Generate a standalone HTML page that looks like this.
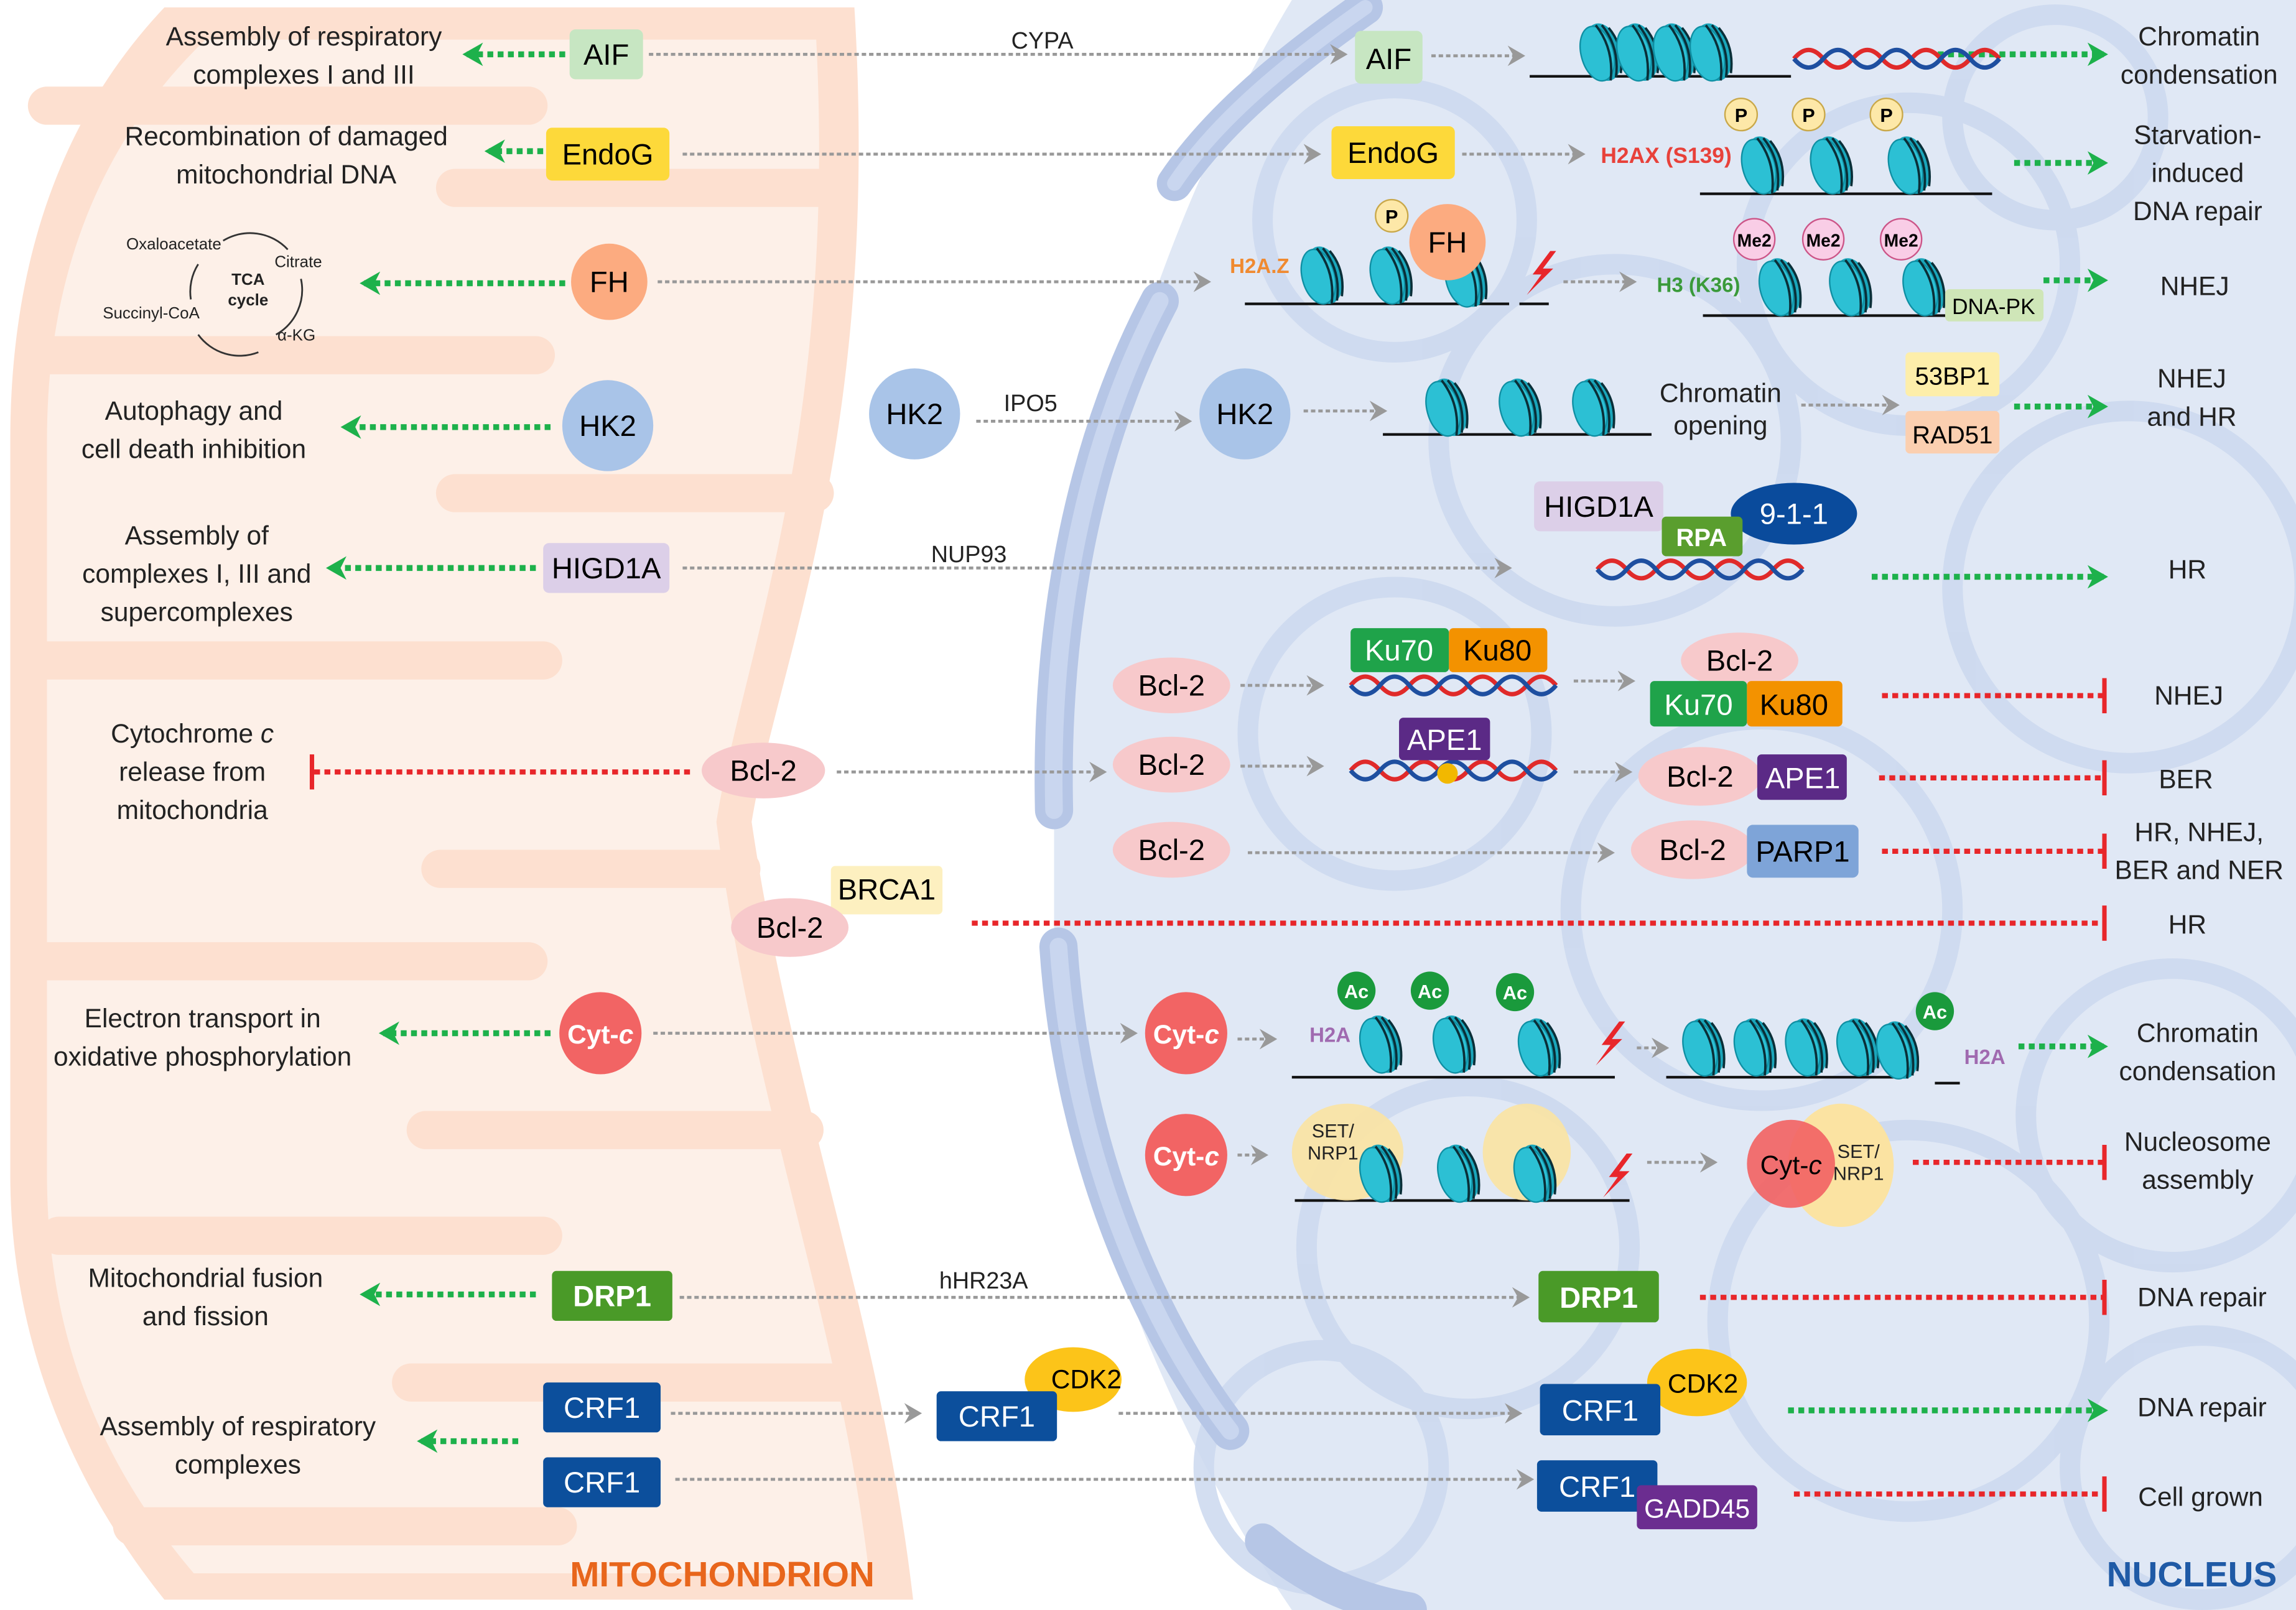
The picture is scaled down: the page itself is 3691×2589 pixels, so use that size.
<!DOCTYPE html>
<html><head><meta charset="utf-8"><style>
html,body{margin:0;padding:0;background:#fff}
svg{display:block}
text{font-family:"Liberation Sans",sans-serif}
</style></head><body>
<svg width="3691" height="2589" viewBox="0 0 1564 1097" xmlns="http://www.w3.org/2000/svg">
<defs>
<marker id="ag" markerWidth="12" markerHeight="14" refX="10" refY="7" orient="auto" markerUnits="userSpaceOnUse"><path d="M0,0 L12,7 L0,14 L4,7 Z" fill="#999"/></marker>
<marker id="agr" markerWidth="14" markerHeight="16" refX="11" refY="8" orient="auto" markerUnits="userSpaceOnUse"><path d="M0,0 L14,8 L0,16 L4,8 Z" fill="#1db14b"/></marker>
<marker id="ar" markerWidth="6" markerHeight="24" refX="3" refY="12" orient="auto" markerUnits="userSpaceOnUse"><rect x="1" y="0" width="3" height="24" fill="#e8262a"/></marker>
<g id="n">
<g transform="rotate(-15)">
<ellipse cx="2" cy="0" rx="12" ry="20" fill="#1aa6bb"/>
<ellipse cx="-2" cy="0" rx="11" ry="19" fill="#2cc0d4" stroke="#0f8fa3" stroke-width="1"/>
<path d="M6,-18 Q14,0 6,19 M10,-15 Q17,0 10,17 M2,-19 Q10,0 2,20" stroke="#0a2f38" stroke-width="1.6" fill="none"/>
</g>
</g>
<g id="dna">
<path d="M0,0 q10,-12 20,0 t20,0 t20,0 t20,0 t20,0 t20,0 t20,0" stroke="#e02a2a" stroke-width="3" fill="none"/>
<path d="M0,0 q10,12 20,0 t20,0 t20,0 t20,0 t20,0 t20,0 t20,0" stroke="#1e4fa0" stroke-width="3" fill="none"/>
</g>
<g id="bolt"><path d="M8,-14 L-4,2 L2,2 L-8,16 L10,-2 L3,-2 L12,-14 Z" fill="#e8262a"/></g>
</defs>

<!-- mitochondrion -->
<path d="M112,5 H582 C600,300 530,450 512,560 C540,750 600,900 622,1090 H112 C40,1000 7,900 7,800 V300 C7,150 60,60 112,5 Z" fill="#fde0d0"/>
<path d="M140,27 H556 C570,300 505,450 488,560 C512,750 572,900 592,1072 H132 C62,990 32,900 32,800 V300 C32,170 80,85 140,27 Z" fill="#fdf0e8"/>
<g stroke="#fde0d0" stroke-width="26" stroke-linecap="round" fill="none">
<path d="M32,72 H360"/>
<path d="M565,128 H310"/>
<path d="M32,242 H365"/>
<path d="M555,336 H310"/>
<path d="M32,450 H370"/>
<path d="M505,592 H300"/>
<path d="M32,655 H360"/>
<path d="M548,770 H290"/>
<path d="M40,842 H370"/>
<path d="M580,942 H280"/>
<path d="M90,1040 H380"/>
</g>

<!-- nucleus -->
<path d="M880,0 C790,150 725,350 718,560 L718,650 C730,820 800,980 880,1097 H1564 V0 Z" fill="#e0e8f5"/>
<g fill="none" stroke="#cbd8ee" stroke-width="14" opacity="0.85">
<circle cx="950" cy="150" r="90"/><circle cx="1100" cy="300" r="120"/><circle cx="1300" cy="180" r="110"/>
<circle cx="1450" cy="400" r="120"/><circle cx="950" cy="500" r="100"/><circle cx="1200" cy="620" r="130"/>
<circle cx="1000" cy="850" r="110"/><circle cx="1300" cy="900" r="130"/><circle cx="1480" cy="760" r="100"/>
<circle cx="1500" cy="1000" r="90"/><circle cx="900" cy="1000" r="80"/><circle cx="1400" cy="80" r="70"/>
</g>
<g fill="none" stroke-linecap="round">
<path d="M800,125 C830,80 880,40 930,5" stroke="#b6c6e6" stroke-width="24"/>
<path d="M790,205 C740,300 715,420 718,552" stroke="#b6c6e6" stroke-width="26"/>
<path d="M721,645 C730,780 780,900 838,975" stroke="#b6c6e6" stroke-width="26"/>
<path d="M860,1050 C890,1075 920,1090 960,1097" stroke="#b6c6e6" stroke-width="24"/>
<path d="M800,125 C830,80 880,40 930,5" stroke="#c9d6ef" stroke-width="10"/>
<path d="M790,205 C740,300 715,420 718,552" stroke="#c9d6ef" stroke-width="12"/>
<path d="M721,645 C730,780 780,900 838,975" stroke="#c9d6ef" stroke-width="12"/>
</g>

<text x="492" y="1081" font-size="24" font-weight="bold" fill="#e8661c" text-anchor="middle">MITOCHONDRION</text>
<text x="1493" y="1081" font-size="24" font-weight="bold" fill="#1f5aa6" text-anchor="middle">NUCLEUS</text>

<g font-size="18" fill="#222" text-anchor="middle">
<text x="207" y="31">Assembly of respiratory</text><text x="207" y="57">complexes I and III</text>
<text x="195" y="99">Recombination of damaged</text><text x="195" y="125">mitochondrial DNA</text>
<text x="132" y="286">Autophagy and</text><text x="132" y="312">cell death inhibition</text>
<text x="134" y="371">Assembly of</text><text x="134" y="397">complexes I, III and</text><text x="134" y="423">supercomplexes</text>
<text x="131" y="506">Cytochrome <tspan font-style="italic">c</tspan></text><text x="131" y="532">release from</text><text x="131" y="558">mitochondria</text>
<text x="138" y="700">Electron transport in</text><text x="138" y="726">oxidative phosphorylation</text>
<text x="140" y="877">Mitochondrial fusion</text><text x="140" y="903">and fission</text>
<text x="162" y="978">Assembly of respiratory</text><text x="162" y="1004">complexes</text>

<text x="1498" y="31">Chromatin</text><text x="1498" y="57">condensation</text>
<text x="1497" y="98">Starvation-</text><text x="1497" y="124">induced</text><text x="1497" y="150">DNA repair</text>
<text x="1495" y="201">NHEJ</text>
<text x="1493" y="264">NHEJ</text><text x="1493" y="290">and HR</text>
<text x="1490" y="394">HR</text>
<text x="1491" y="480">NHEJ</text>
<text x="1489" y="537">BER</text>
<text x="1498" y="573">HR, NHEJ,</text><text x="1498" y="599">BER and NER</text>
<text x="1490" y="636">HR</text>
<text x="1497" y="710">Chromatin</text><text x="1497" y="736">condensation</text>
<text x="1497" y="784">Nucleosome</text><text x="1497" y="810">assembly</text>
<text x="1500" y="890">DNA repair</text>
<text x="1500" y="965">DNA repair</text>
<text x="1499" y="1026">Cell grown</text>
<text x="1172" y="274">Chromatin</text><text x="1172" y="296">opening</text>
<text x="710" y="33" font-size="16">CYPA</text>
<text x="702" y="280" font-size="16">IPO5</text>
<text x="660" y="383" font-size="16">NUP93</text>
<text x="670" y="878" font-size="16">hHR23A</text>
</g>

<!-- TCA cycle -->
<g font-size="11" fill="#222">
<text x="86" y="170">Oxaloacetate</text><text x="187" y="182">Citrate</text>
<text x="70" y="217">Succinyl-CoA</text><text x="189" y="232">α-KG</text>
<text x="169" y="194" font-weight="bold" text-anchor="middle">TCA</text><text x="169" y="208" font-weight="bold" text-anchor="middle">cycle</text>
<path d="M152,164 A35,35 0 0 1 196,170 M205,190 A35,35 0 0 1 188,228 M176,240 A35,35 0 0 1 135,228 M130,204 A35,35 0 0 1 135,180" stroke="#333" fill="none" stroke-width="1.2"/>
</g>

<!-- arrows -->
<g stroke="#999" stroke-width="2" stroke-dasharray="3 2" fill="none" marker-end="url(#ag)">
<line x1="442" y1="37" x2="916" y2="37"/><line x1="975" y1="38" x2="1037" y2="38"/>
<line x1="465" y1="105" x2="898" y2="105"/><line x1="996" y1="105" x2="1078" y2="105"/>
<line x1="448" y1="192" x2="823" y2="192"/><line x1="1065" y1="192" x2="1113" y2="192"/>
<line x1="665" y1="287" x2="810" y2="287"/><line x1="888" y1="280" x2="943" y2="280"/><line x1="1227" y1="276" x2="1292" y2="276"/>
<line x1="465" y1="387" x2="1028" y2="387"/>
<line x1="845" y1="467" x2="900" y2="467"/><line x1="1072" y1="464" x2="1112" y2="464"/>
<line x1="570" y1="526" x2="752" y2="526"/><line x1="845" y1="522" x2="900" y2="522"/><line x1="1072" y1="526" x2="1110" y2="526"/>
<line x1="850" y1="581" x2="1098" y2="581"/>
<line x1="445" y1="704" x2="773" y2="704"/><line x1="843" y1="708" x2="868" y2="708"/><line x1="1115" y1="714" x2="1135" y2="714"/>
<line x1="843" y1="787" x2="862" y2="787"/><line x1="1122" y1="792" x2="1168" y2="792"/>
<line x1="463" y1="884" x2="1040" y2="884"/>
<line x1="457" y1="963" x2="626" y2="963"/><line x1="762" y1="963" x2="1035" y2="963"/>
<line x1="460" y1="1008" x2="1043" y2="1008"/>
</g>
<g stroke="#1db14b" stroke-width="4" stroke-dasharray="4 3" fill="none" marker-end="url(#agr)">
<line x1="385" y1="37" x2="318" y2="37"/><line x1="1320" y1="37" x2="1433" y2="37"/>
<line x1="370" y1="103" x2="333" y2="103"/><line x1="1372" y1="111" x2="1433" y2="111"/>
<line x1="385" y1="193" x2="248" y2="193"/><line x1="1392" y1="191" x2="1433" y2="191"/>
<line x1="375" y1="291" x2="235" y2="291"/><line x1="1372" y1="277" x2="1433" y2="277"/>
<line x1="365" y1="387" x2="225" y2="387"/><line x1="1275" y1="393" x2="1433" y2="393"/>
<line x1="375" y1="704" x2="261" y2="704"/><line x1="1375" y1="713" x2="1433" y2="713"/>
<line x1="365" y1="882" x2="248" y2="882"/>
<line x1="353" y1="982" x2="287" y2="982"/><line x1="1218" y1="961" x2="1433" y2="961"/>
</g>
<g stroke="#e8262a" stroke-width="3.5" stroke-dasharray="4 3" fill="none" marker-end="url(#ar)">
<line x1="470" y1="526" x2="212" y2="526"/>
<line x1="1282" y1="474" x2="1434" y2="474"/>
<line x1="1280" y1="530" x2="1434" y2="530"/>
<line x1="1282" y1="580" x2="1434" y2="580"/>
<line x1="662" y1="629" x2="1434" y2="629"/>
<line x1="1303" y1="792" x2="1434" y2="792"/>
<line x1="1158" y1="884" x2="1434" y2="884"/>
<line x1="1222" y1="1018" x2="1434" y2="1018"/>
</g>

<!-- chromatin rows -->
<g stroke="#111" stroke-width="1.8" fill="none">
<path d="M1042,52 H1220"/><path d="M1158,132 H1357"/><path d="M848,207 H1028 M1035,207 H1055"/>
<path d="M1160,215 H1330"/><path d="M942,296 H1125"/><path d="M880,734 H1100"/><path d="M1135,734 H1300 M1318,738 H1335"/>
<path d="M882,818 H1110"/>
</g>
<use href="#n" x="1090" y="36"/><use href="#n" x="1115" y="36"/><use href="#n" x="1140" y="36"/><use href="#n" x="1165" y="36"/>
<use href="#dna" x="1222" y="40"/>
<use href="#n" x="1200" y="113"/><use href="#n" x="1247" y="113"/><use href="#n" x="1300" y="113"/>
<use href="#n" x="900" y="188"/><use href="#n" x="947" y="188"/><use href="#n" x="998" y="190"/>
<use href="#n" x="1212" y="196"/><use href="#n" x="1260" y="196"/><use href="#n" x="1310" y="196"/>
<use href="#n" x="985" y="278"/><use href="#n" x="1035" y="278"/><use href="#n" x="1085" y="278"/>
<use href="#n" x="940" y="712"/><use href="#n" x="990" y="712"/><use href="#n" x="1048" y="714"/>
<use href="#n" x="1160" y="714"/><use href="#n" x="1195" y="714"/><use href="#n" x="1230" y="714"/><use href="#n" x="1265" y="714"/><use href="#n" x="1292" y="716"/>
<ellipse cx="918" cy="785" rx="38" ry="33" fill="#fbe3a2" opacity="0.9"/>
<ellipse cx="1040" cy="785" rx="30" ry="33" fill="#fbe3a2" opacity="0.9"/>
<use href="#n" x="940" y="800"/><use href="#n" x="993" y="800"/><use href="#n" x="1045" y="800"/>
<use href="#bolt" x="1048" y="185"/><use href="#bolt" x="1095" y="710"/><use href="#bolt" x="1100" y="800"/>
<use href="#dna" x="1088" y="388"/>
<use href="#dna" x="920" y="467"/><use href="#dna" x="920" y="525"/>

<!-- P / Me2 / Ac -->
<g font-size="13" font-weight="bold" text-anchor="middle">
<g fill="#fde8a8" stroke="#c9a84a"><circle cx="1186" cy="78" r="11"/><circle cx="1232" cy="78" r="11"/><circle cx="1285" cy="78" r="11"/><circle cx="948" cy="147" r="11"/></g>
<text x="1186" y="83">P</text><text x="1232" y="83">P</text><text x="1285" y="83">P</text><text x="948" y="152">P</text>
<g fill="#f9cde6" stroke="#c58"><circle cx="1195" cy="163" r="14"/><circle cx="1242" cy="163" r="14"/><circle cx="1295" cy="163" r="14"/></g>
<text x="1195" y="168" font-size="12">Me2</text><text x="1242" y="168" font-size="12">Me2</text><text x="1295" y="168" font-size="12">Me2</text>
<g fill="#1a9a3c"><circle cx="924" cy="675" r="13"/><circle cx="974" cy="675" r="13"/><circle cx="1032" cy="676" r="13"/><circle cx="1318" cy="689" r="13"/></g>
<g fill="#fff"><text x="924" y="680">Ac</text><text x="974" y="680">Ac</text><text x="1032" y="681">Ac</text><text x="1318" y="694">Ac</text></g>
</g>
<g font-size="14" font-weight="bold" text-anchor="middle">
<text x="1135" y="111" fill="#e8413a" font-size="15">H2AX (S139)</text>
<text x="858" y="186" fill="#f08a30">H2A.Z</text>
<text x="1157" y="199" fill="#3a9a3a">H3 (K36)</text>
<text x="906" y="710" fill="#a06ab0">H2A</text><text x="1352" y="725" fill="#a06ab0">H2A</text>
</g>

<!-- nodes -->
<g font-size="20" text-anchor="middle">
<rect x="388" y="20" width="50" height="34" rx="4" fill="#c7e6c2"/><text x="413" y="44">AIF</text>
<rect x="923" y="21" width="46" height="36" rx="4" fill="#c7e6c2"/><text x="946" y="47">AIF</text>
<rect x="372" y="87" width="84" height="36" rx="4" fill="#fdd93a"/><text x="414" y="112">EndoG</text>
<rect x="907" y="86" width="84" height="36" rx="4" fill="#fdd93a"/><text x="949" y="111">EndoG</text>
<circle cx="415" cy="192" r="26" fill="#fcab80"/><text x="415" y="199">FH</text>
<circle cx="986" cy="165" r="26" fill="#fcab80"/><text x="986" y="172">FH</text>
<circle cx="414" cy="290" r="31" fill="#a9c4e8"/><text x="414" y="297">HK2</text>
<circle cx="623" cy="282" r="31" fill="#a9c4e8"/><text x="623" y="289">HK2</text>
<circle cx="848" cy="282" r="31" fill="#a9c4e8"/><text x="848" y="289">HK2</text>
<rect x="1298" y="240" width="64" height="30" rx="3" fill="#fdeeaa"/><text x="1330" y="262" font-size="17">53BP1</text>
<rect x="1298" y="280" width="64" height="29" rx="3" fill="#fbcfb0"/><text x="1330" y="302" font-size="17">RAD51</text>
<rect x="1325" y="197" width="67" height="22" rx="3" fill="#cfe6b8"/><text x="1358" y="214" font-size="15">DNA-PK</text>
<rect x="370" y="370" width="86" height="34" rx="4" fill="#dccfe8"/><text x="413" y="394">HIGD1A</text>
<rect x="1045" y="328" width="88" height="34" rx="4" fill="#dccfe8"/><text x="1089" y="352">HIGD1A</text>
<ellipse cx="1222" cy="350" rx="43" ry="21" fill="#0a4b9c"/><text x="1222" y="357" fill="#fff">9-1-1</text>
<rect x="1132" y="352" width="55" height="27" rx="3" fill="#5a9e2e"/><text x="1159" y="372" fill="#fff" font-weight="bold" font-size="17">RPA</text>
<ellipse cx="798" cy="467" rx="40" ry="19" fill="#f7c9cb"/><text x="798" y="474">Bcl-2</text>
<rect x="920" y="428" width="67" height="30" rx="3" fill="#1fa34a"/><text x="953" y="450" fill="#fff">Ku70</text>
<rect x="987" y="428" width="67" height="30" rx="3" fill="#f39200"/><text x="1020" y="450">Ku80</text>
<ellipse cx="1185" cy="450" rx="40" ry="19" fill="#f7c9cb"/><text x="1185" y="457">Bcl-2</text>
<rect x="1124" y="464" width="66" height="31" rx="3" fill="#1fa34a"/><text x="1157" y="487" fill="#fff">Ku70</text>
<rect x="1190" y="464" width="65" height="31" rx="3" fill="#f39200"/><text x="1222" y="487">Ku80</text>
<ellipse cx="520" cy="525" rx="42" ry="19" fill="#f7c9cb"/><text x="520" y="532">Bcl-2</text>
<ellipse cx="798" cy="521" rx="40" ry="19" fill="#f7c9cb"/><text x="798" y="528">Bcl-2</text>
<rect x="953" y="489" width="62" height="29" rx="3" fill="#5b2a86"/><text x="984" y="511" fill="#fff">APE1</text>
<circle cx="986" cy="527" r="7" fill="#f2b800"/>
<ellipse cx="1158" cy="529" rx="42" ry="20" fill="#f7c9cb"/><text x="1158" y="536">Bcl-2</text>
<rect x="1197" y="514" width="61" height="31" rx="3" fill="#5b2a86"/><text x="1228" y="537" fill="#fff">APE1</text>
<ellipse cx="798" cy="579" rx="40" ry="19" fill="#f7c9cb"/><text x="798" y="586">Bcl-2</text>
<ellipse cx="1153" cy="579" rx="42" ry="20" fill="#f7c9cb"/><text x="1153" y="586">Bcl-2</text>
<rect x="1190" y="562" width="76" height="36" rx="4" fill="#7ea4d8"/><text x="1228" y="587">PARP1</text>
<rect x="566" y="590" width="76" height="33" rx="3" fill="#fdf0c0"/><text x="604" y="613">BRCA1</text>
<ellipse cx="538" cy="632" rx="40" ry="20" fill="#f7c9cb"/><text x="538" y="639">Bcl-2</text>
<circle cx="409" cy="704" r="28" fill="#f26464"/><text x="409" y="711" fill="#fff" font-weight="bold" font-size="18">Cyt-<tspan font-style="italic">c</tspan></text>
<circle cx="808" cy="704" r="28" fill="#f26464"/><text x="808" y="711" fill="#fff" font-weight="bold" font-size="18">Cyt-<tspan font-style="italic">c</tspan></text>
<circle cx="808" cy="787" r="28" fill="#f26464"/><text x="808" y="794" fill="#fff" font-weight="bold" font-size="18">Cyt-<tspan font-style="italic">c</tspan></text>
<ellipse cx="1254" cy="794" rx="36" ry="42" fill="#fbe3a2"/>
<circle cx="1220" cy="793" r="30" fill="#f26464" opacity="0.92"/><text x="1220" y="800" font-size="18">Cyt-<tspan font-style="italic">c</tspan></text>
<rect x="376" y="866" width="82" height="34" rx="3" fill="#4a9a28"/><text x="417" y="890" fill="#fff" font-weight="bold">DRP1</text>
<rect x="1048" y="866" width="82" height="35" rx="3" fill="#4a9a28"/><text x="1089" y="891" fill="#fff" font-weight="bold">DRP1</text>
<rect x="370" y="942" width="80" height="34" rx="3" fill="#0c4f9c"/><text x="410" y="966" fill="#fff">CRF1</text>
<ellipse cx="731" cy="940" rx="33" ry="22" fill="#fcc419"/>
<rect x="638" y="948" width="82" height="34" rx="3" fill="#0c4f9c"/><text x="679" y="972" fill="#fff">CRF1</text>
<text x="740" y="946" font-size="18">CDK2</text>
<ellipse cx="1156" cy="942" rx="34" ry="23" fill="#fcc419"/>
<rect x="1049" y="943" width="82" height="35" rx="3" fill="#0c4f9c"/><text x="1090" y="968" fill="#fff">CRF1</text>
<text x="1160" y="949" font-size="18">CDK2</text>
<rect x="370" y="993" width="80" height="34" rx="3" fill="#0c4f9c"/><text x="410" y="1017" fill="#fff">CRF1</text>
<rect x="1047" y="995" width="82" height="35" rx="3" fill="#0c4f9c"/><text x="1088" y="1020" fill="#fff">CRF1</text>
<rect x="1115" y="1012" width="82" height="30" rx="3" fill="#6b2d90"/><text x="1156" y="1034" fill="#fff" font-size="18">GADD45</text>
</g>
<g font-size="13" text-anchor="middle" fill="#222">
<text x="908" y="775">SET/</text><text x="908" y="790">NRP1</text>
<text x="1266" y="789">SET/</text><text x="1266" y="804">NRP1</text>
</g>
</svg>
</body></html>
